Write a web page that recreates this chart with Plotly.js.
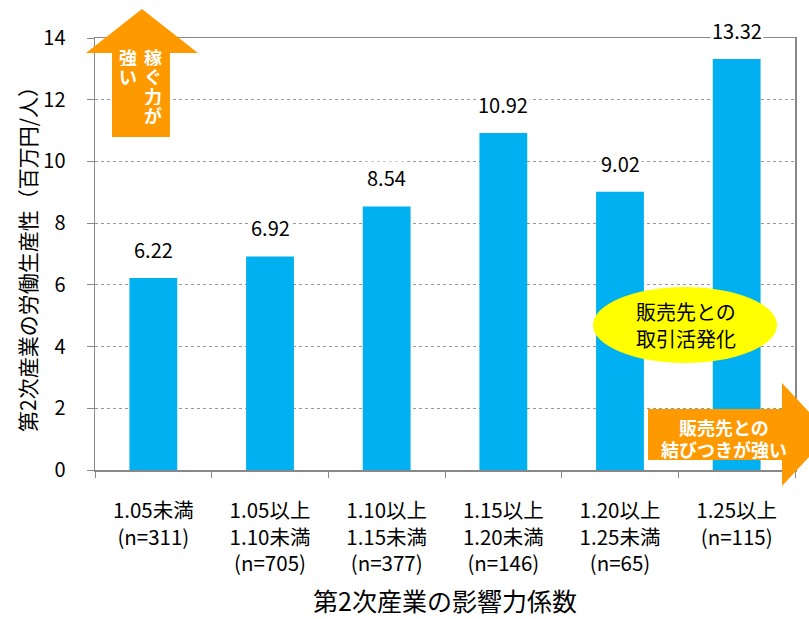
<!DOCTYPE html>
<html>
<head>
<meta charset="utf-8">
<script src="https://cdn.plot.ly/plotly-3.0.1.min.js"></script>
<style>html,body{margin:0;padding:0;background:#fff;}</style>
</head>
<body>
<div id="chart" style="width:809px;height:619px;"></div>
<script>
// ---- data ----
const categories = ["c1","c2","c3","c4","c5","c6"];
const tickLabels = [
  "1.05未満<br>(n=311)",
  "1.05以上<br>1.10未満<br>(n=705)",
  "1.10以上<br>1.15未満<br>(n=377)",
  "1.15以上<br>1.20未満<br>(n=146)",
  "1.20以上<br>1.25未満<br>(n=65)",
  "1.25以上<br>(n=115)"
];
const values = [6.22, 6.92, 8.54, 10.92, 9.02, 13.32];
const yTitle = "第2次産業の労働生産性（百万円/人）";
const xTitle = "第2次産業の影響力係数";
const upArrowRight = ["稼", "ぐ", "力", "が"];
const upArrowLeft = ["強", "い"];
const rightArrowLines = ["販売先との", "結びつきが強い"];
const ellipseLines = ["販売先との", "取引活発化"];

// ---- layout helpers (pixel -> paper) ----
const W = 809, H = 619;
const M = {l: 95, r: 14, t: 38, b: 149};
const PW = W - M.l - M.r, PH = H - M.t - M.b;
const px = x => (x - M.l) / PW;
const py = y => (H - M.b - y) / PH;
const path = pts => "M" + pts.map(p => px(p[0]).toFixed(4) + "," + py(p[1]).toFixed(4)).join(" L") + " Z";

const FONT = "Noto Sans CJK JP, Noto Sans, sans-serif";
const ORANGE = "#FF9900";

const trace = {
  type: "bar",
  x: categories,
  y: values,
  marker: {color: "#00B0F0"},
  hoverinfo: "skip"
};

const valueAnnotations = categories.map((c, i) => ({
  x: c, y: values[i], xref: "x", yref: "y",
  text: values[i].toFixed(2),
  showarrow: false, xanchor: "center", yanchor: "bottom", yshift: 12,
  bgcolor: "#ffffff",
  font: {family: FONT, size: 20, color: "#000"}
}));

function label(x, y, text, size, color, bold, h) {
  const a = {xref: "paper", yref: "paper", x: px(x), y: py(y), text: text, showarrow: false,
    xanchor: "center", yanchor: "middle", borderpad: 0,
    font: {family: FONT, size: size, color: color, weight: bold ? "bold" : "normal"}};
  if (h) a.height = h;
  return a;
}

const textAnnotations = [];
upArrowRight.forEach((t, i) => textAnnotations.push(label(153, 57 + i * 19.3, t, 18, "#fff", true, 18)));
upArrowLeft.forEach((t, i) => textAnnotations.push(label(128, 57 + i * 19.3, t, 18, "#fff", true, 18)));
rightArrowLines.forEach((t, i) => textAnnotations.push(label(724, 427 + i * 21.5, t, 18, "#fff", true, 20)));
ellipseLines.forEach((t, i) => textAnnotations.push(label(686, 311 + i * 27, t, 20, "#000", false, 24)));

const upArrow = path([[142,9],[198,53],[170,53],[170,137],[112,137],[112,53],[86,53]]);
const rightArrow = path([[648,409],[782,409],[782,383],[830,434.5],[782,486],[782,460],[648,460]]);

const layout = {
  width: W, height: H,
  margin: M,
  paper_bgcolor: "#fff",
  plot_bgcolor: "#fff",
  showlegend: false,
  bargap: 0.59,
  font: {family: FONT, size: 18, color: "#000"},
  xaxis: {
    type: "category",
    tickvals: categories,
    ticktext: tickLabels,
    tickson: "boundaries",
    ticks: "outside", ticklen: 6, tickcolor: "#888",
    showline: true, linecolor: "#888", linewidth: 1.5, mirror: true,
    showgrid: false,
    ticklabelstandoff: 22,
    tickfont: {family: FONT, size: 20.5, color: "#000"},
    title: {text: xTitle, font: {family: FONT, size: 25, color: "#000"}, standoff: 17},
    automargin: false
  },
  yaxis: {
    range: [0, 14],
    dtick: 2,
    ticks: "outside", ticklen: 7, tickcolor: "#888",
    showline: true, linecolor: "#888", linewidth: 1.5, mirror: true,
    showgrid: true, gridcolor: "#999", griddash: "dot", gridwidth: 1,
    zeroline: false,
    ticklabelstandoff: 17,
    tickfont: {family: FONT, size: 20, color: "#000"},
    title: {text: yTitle, font: {family: FONT, size: 21, color: "#000"}, standoff: 1},
    automargin: false
  },
  shapes: [
    {type: "path", xref: "paper", yref: "paper", path: upArrow, fillcolor: ORANGE, line: {width: 0}, layer: "above"},
    {type: "path", xref: "paper", yref: "paper", path: rightArrow, fillcolor: ORANGE, line: {width: 0}, layer: "above"},
    {type: "circle", xref: "paper", yref: "paper", x0: px(593), x1: px(777), y0: py(363), y1: py(287),
     fillcolor: "#FFFF00", line: {width: 0}, layer: "above"}
  ],
  annotations: valueAnnotations.concat(textAnnotations)
};

Plotly.newPlot("chart", [trace], layout, {displayModeBar: false, staticPlot: true});
</script>
</body>
</html>
